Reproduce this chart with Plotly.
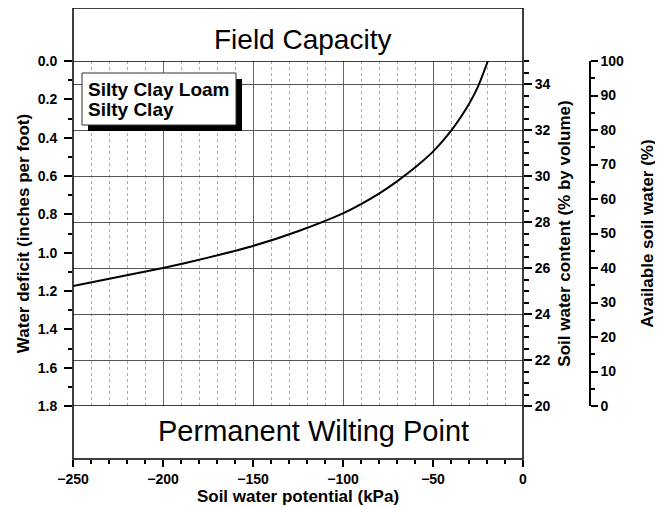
import plotly.graph_objects as go

# curve: soil water potential (kPa) vs water deficit (in/ft)
potential = [-250, -225, -200, -175, -150, -125, -100, -90, -80, -70, -60, -50, -40, -35, -30, -25, -19.5]
deficit = [1.174, 1.127, 1.080, 1.026, 0.965, 0.888, 0.795, 0.747, 0.692, 0.628, 0.556, 0.473, 0.365, 0.299, 0.225, 0.134, 0.0]

deficit_ticks = [0.0, 0.2, 0.4, 0.6, 0.8, 1.0, 1.2, 1.4, 1.6, 1.8]
content_ticks = [20, 22, 24, 26, 28, 30, 32, 34]
available_ticks = [0, 10, 20, 30, 40, 50, 60, 70, 80, 90, 100]
soil_labels = ["Silty Clay Loam", "Silty Clay"]

# the page body adds an 8px margin, so the figure is 8px smaller than the window
W, H = 655, 499
L, T = 65, 0
PW, PH = 580, 451
R, B = W - L - PW, H - T - PH


def px(x):  # window pixel -> paper fraction
    return (x - 73) / PW


def py(y):
    return (459 - y) / PH


FRAME_R = px(523)
DOM = [py(406), py(61)]

tick_font = dict(family="Liberation Sans, Arial", size=14, color="black", weight="bold")
title_font = dict(family="Liberation Sans, Arial", size=17, color="black", weight="bold")

fig = go.Figure()
fig.add_trace(go.Scatter(x=potential, y=deficit, mode="lines",
                         line=dict(color="black", width=2, shape="spline", smoothing=0.6),
                         hoverinfo="skip", showlegend=False))
fig.add_trace(go.Scatter(x=[], y=[], yaxis="y2", showlegend=False))
fig.add_trace(go.Scatter(x=[], y=[], yaxis="y3", showlegend=False))

fig.update_layout(
    width=W, height=H,
    margin=dict(l=L, r=R, t=T, b=B),
    paper_bgcolor="white", plot_bgcolor="white",
    xaxis=dict(domain=[0, FRAME_R], range=[-250, 0], anchor="free", position=0, automargin=False,
               dtick=50, tick0=0, ticks="outside", ticklen=7, tickwidth=1.5, tickcolor="black",
               tickfont=tick_font, showline=False, zeroline=False,
               showgrid=True, gridcolor="#666", gridwidth=1,
               minor=dict(dtick=10, ticks="outside", ticklen=4, tickwidth=1.5, tickcolor="black",
                          showgrid=True, gridcolor="#aaa", griddash="dot", gridwidth=1),
               title=dict(text="Soil water potential (kPa)", font=title_font, standoff=3)),
    yaxis=dict(domain=DOM, range=[1.8, 0], tickvals=deficit_ticks, ticktext=[f"{v:.1f}" for v in deficit_ticks],
               automargin=False, ticklabelstandoff=4,
               ticks="outside", ticklen=8, tickwidth=1.5, tickcolor="black", tickfont=tick_font,
               showgrid=False, zeroline=False, showline=False,
               minor=dict(dtick=0.1, tick0=0, ticks="outside", ticklen=4, tickwidth=1.5, tickcolor="black"),
               title=dict(text="Water deficit (inches per foot)", font=title_font, standoff=3)),
    yaxis2=dict(domain=DOM, range=[20, 35], overlaying="y", side="right", anchor="x", automargin=False,
                tickvals=content_ticks, ticks="outside", ticklen=8, tickwidth=1.5, tickcolor="black",
                tickfont=tick_font, showgrid=True, gridcolor="#555", gridwidth=1, zeroline=False, showline=False,
                minor=dict(dtick=0.5, tick0=20, ticks="outside", ticklen=5, tickwidth=1.5, tickcolor="black"),
                title=dict(text="Soil water content (% by volume)", font=title_font, standoff=8)),
    yaxis3=dict(domain=DOM, range=[0, 100], overlaying="y", side="right", anchor="free", position=px(590),
                automargin=False,
                tickvals=available_ticks, ticks="outside", ticklen=7, tickwidth=1.5, tickcolor="black",
                tickfont=tick_font, showgrid=False, zeroline=False, showline=True, linecolor="black", linewidth=1.5,
                minor=dict(dtick=5, tick0=0, ticks="outside", ticklen=4, tickwidth=1.5, tickcolor="black"),
                title=dict(text="Available soil water (%)", font=title_font, standoff=17)),
)

# frame and the field capacity / wilting point boxes
fig.add_shape(type="rect", xref="paper", yref="paper", x0=0, x1=FRAME_R, y0=0, y1=1,
              line=dict(color="black", width=1.5))
for lvl in (0.0, 1.8):
    fig.add_shape(type="line", xref="paper", yref="y", x0=0, x1=FRAME_R, y0=lvl, y1=lvl,
                  line=dict(color="black", width=1.5))

# soil label box with shadow
fig.add_shape(type="rect", xref="paper", yref="paper", x0=px(88), x1=px(242), y0=py(131), y1=py(79),
              fillcolor="black", line=dict(width=0))
fig.add_shape(type="rect", xref="paper", yref="paper", x0=px(82), x1=px(236), y0=py(125), y1=py(73),
              fillcolor="white", line=dict(color="#333", width=1))
for i, lab in enumerate(soil_labels):
    fig.add_annotation(xref="paper", yref="paper", x=px(86), y=py(90 + 19 * i), text=lab, showarrow=False,
                       xanchor="left", yanchor="middle",
                       font=dict(family="Liberation Sans, Arial", size=19, color="black", weight="bold"))

big_font = dict(family="Liberation Sans, Arial", size=28, color="black")
fig.add_annotation(xref="paper", yref="paper", x=px(302), y=py(40), text="Field Capacity", showarrow=False,
                   xanchor="center", yanchor="middle", font=big_font)
fig.add_annotation(xref="paper", yref="paper", x=px(313), y=py(431), text="Permanent Wilting Point",
                   showarrow=False, xanchor="center", yanchor="middle", font=dict(big_font, size=29))

fig.write_html("out.html")
